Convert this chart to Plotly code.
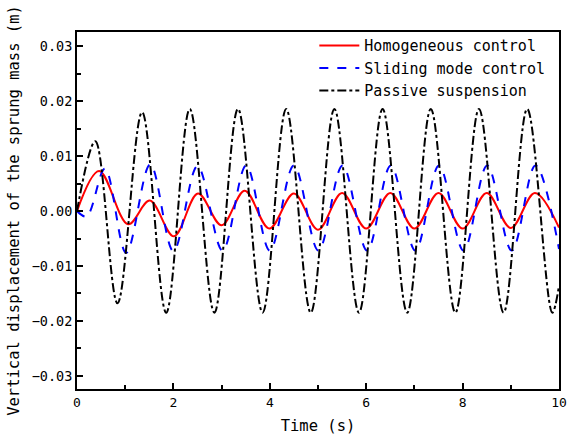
import plotly.graph_objects as go

# Homogeneous control (red, solid) - extrema
t_homo = [0, 0.46, 1.06, 1.51, 2.01, 2.51, 3.0, 3.48, 3.99, 4.5, 5.0, 5.5, 6.0,
          6.5, 7.0, 7.5, 8.0, 8.5, 9.0, 9.5, 10.0]
y_homo = [0, 0.0073, -0.0024, 0.0019, -0.0046, 0.0032, -0.0026, 0.0037, -0.0032,
          0.0032, -0.0034, 0.0033, -0.0032, 0.0033, -0.0032, 0.0033, -0.0032,
          0.0033, -0.0031, 0.0033, -0.0030]

# Sliding mode control (blue, dashed)
t_smc = [0, 0.2, 0.58, 1.02, 1.52, 2.0, 2.5, 3.02, 3.51, 4.0, 4.5, 5.01, 5.51,
         6.02, 6.51, 7.02, 7.51, 8.02, 8.51, 9.02, 9.51, 10.0]
y_smc = [0, -0.0010, 0.0077, -0.0076, 0.0085, -0.0073, 0.0082, -0.0072, 0.0083,
         -0.0072, 0.0083, -0.0072, 0.0083, -0.0072, 0.0083, -0.0072, 0.0083,
         -0.0072, 0.0083, -0.0072, 0.0083, -0.0069]

# Passive suspension (black, dash-dot)
t_pass = [0, 0.38, 0.84, 1.35, 1.85, 2.34, 2.85, 3.34, 3.85, 4.34, 4.85, 5.34,
          5.85, 6.34, 6.85, 7.34, 7.85, 8.34, 8.85, 9.34, 9.86, 10.0]
y_pass = [0, 0.0127, -0.0168, 0.0180, -0.0185, 0.0186, -0.0185, 0.0186, -0.0185,
          0.0186, -0.0185, 0.0186, -0.0185, 0.0186, -0.0185, 0.0186, -0.0185,
          0.0186, -0.0185, 0.0186, -0.0185, -0.0136]

x_ticks = [0, 2, 4, 6, 8, 10]
y_ticks = [-0.03, -0.02, -0.01, 0.00, 0.01, 0.02, 0.03]
y_tick_text = ["\u22120.03", "\u22120.02", "\u22120.01", "0.00", "0.01", "0.02", "0.03"]

FONT = '"DejaVu Sans Mono", monospace'

fig = go.Figure()
fig.add_trace(go.Scatter(x=t_homo, y=y_homo, mode="lines", name="Homogeneous control",
                         line=dict(color="#ff0000", width=2, shape="spline", smoothing=1)))
fig.add_trace(go.Scatter(x=t_smc, y=y_smc, mode="lines", name="Sliding mode control",
                         line=dict(color="#0000ff", width=2, dash="dash", shape="spline", smoothing=1)))
fig.add_trace(go.Scatter(x=t_pass, y=y_pass, mode="lines", name="Passive suspension",
                         line=dict(color="#000000", width=2, dash="dashdot", shape="spline", smoothing=1)))

fig.update_layout(
    width=567, height=439,
    margin=dict(l=77, r=8, t=32, b=50, autoexpand=False),
    paper_bgcolor="white", plot_bgcolor="white",
    font=dict(family=FONT, color="black", size=13),
    showlegend=True,
    legend=dict(x=0.982, y=1.008, xanchor="right", yanchor="top",
                bgcolor="rgba(0,0,0,0)", font=dict(family=FONT, size=15),
                tracegroupgap=0, itemwidth=40),
)
fig.update_xaxes(
    range=[0, 10], tickvals=x_ticks, ticktext=[str(v) for v in x_ticks],
    automargin=False, ticklabeloverflow="allow",
    ticks="inside", ticklen=6, tickwidth=1.5, tickcolor="black",
    showline=True, linecolor="black", linewidth=2, mirror=True,
    showgrid=False, zeroline=False,
    minor=dict(dtick=1, tick0=0, ticks="inside", ticklen=4, tickwidth=1.5, tickcolor="black", showgrid=False),
    title=dict(text="Time (s)", font=dict(family=FONT, size=15.5), standoff=12),
    tickfont=dict(family=FONT, size=13),
)
fig.update_yaxes(
    range=[-0.0324, 0.0326], tickvals=y_ticks, ticktext=y_tick_text,
    automargin=False, ticklabeloverflow="allow",
    ticks="inside", ticklen=6, tickwidth=1.5, tickcolor="black",
    showline=True, linecolor="black", linewidth=2, mirror=True,
    showgrid=False, zeroline=False,
    minor=dict(dtick=0.005, tick0=0, ticks="inside", ticklen=4, tickwidth=1.5, tickcolor="black", showgrid=False),
    title=dict(text="Vertical displacement of the sprung mass (m)", font=dict(family=FONT, size=15.5), standoff=8),
    tickfont=dict(family=FONT, size=13.5),
)

fig.write_html("out.html")
